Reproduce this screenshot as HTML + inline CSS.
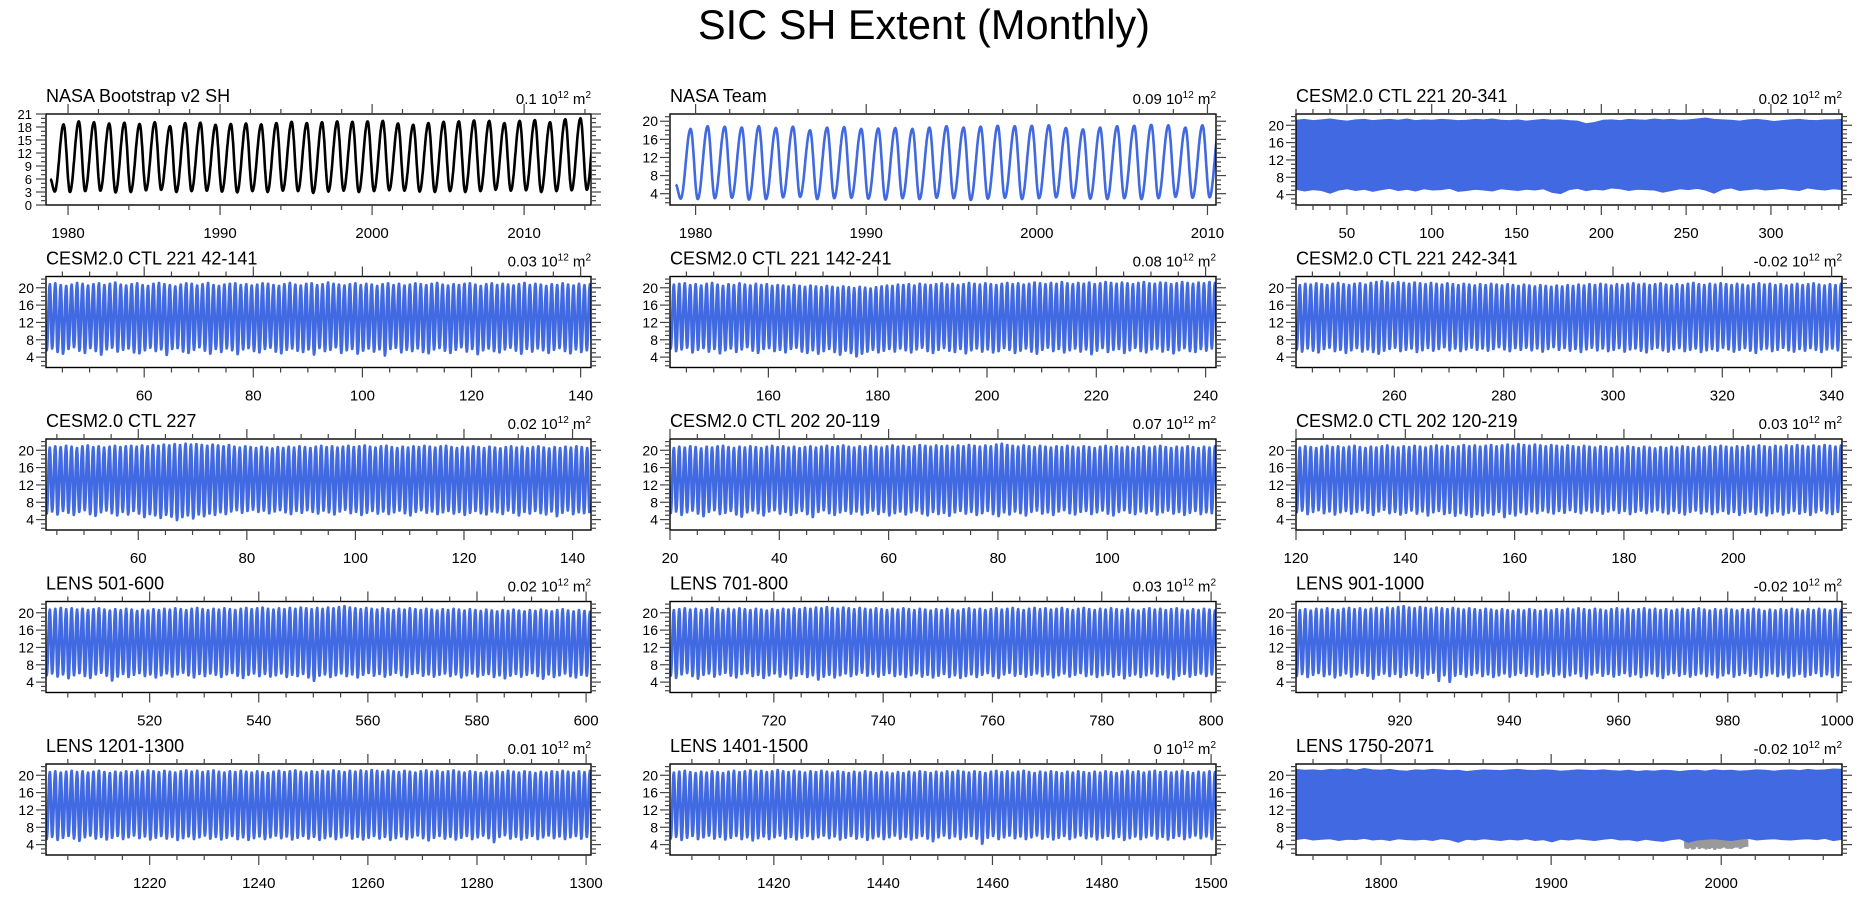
<!DOCTYPE html>
<html><head><meta charset="utf-8"><title>SIC SH Extent (Monthly)</title>
<style>html,body{margin:0;padding:0;background:#fff}svg{display:block}text{font-family:"Liberation Sans",Arial,sans-serif;fill:#000}</style>
</head><body>
<svg id="chart" xmlns="http://www.w3.org/2000/svg" width="1863" height="897" viewBox="0 0 1863 897">
<text x="924" y="39" font-size="42" text-anchor="middle" textLength="452" lengthAdjust="spacingAndGlyphs">SIC SH Extent (Monthly)</text>
</svg>
<script>
// ---------- data (annual Sep maxima / Feb minima, 10^6 km^2) ----------
const bootMax=[18.6,19.3,19.1,18.8,19.0,18.7,19.1,18.2,18.9,19.0,18.5,18.7,18.8,18.6,18.9,19.2,18.9,19.1,19.3,19.2,19.3,19.4,18.8,18.5,18.9,19.2,19.3,19.5,19.4,18.9,19.4,19.6,19.1,19.8,20.0,20.1];
const bootMin=[3.1,3.0,3.2,3.3,2.9,3.0,3.4,3.5,3.0,3.2,3.3,3.1,2.9,3.2,3.0,3.3,3.2,2.8,3.1,3.3,3.0,3.2,3.4,3.3,3.1,3.0,3.2,3.0,3.2,3.5,3.3,3.4,3.0,3.2,3.4,3.5];
const teamMax=[18.3,18.9,18.8,18.6,18.9,18.5,18.8,18.0,18.6,18.7,18.3,18.4,18.5,18.3,18.6,18.9,18.6,18.8,19.0,18.9,19.0,19.1,18.5,18.2,18.6,18.9,19.0,19.2,19.1,18.6,19.1,19.2];
const teamMin=[2.9,2.8,3.0,3.1,2.7,2.8,3.2,3.3,2.8,3.0,3.1,2.9,2.7,3.0,2.8,3.1,3.0,2.6,2.9,3.1,2.8,3.0,3.2,3.1,2.9,2.8,3.0,2.8,3.0,3.3,3.1,3.2];
const c221Upper=[21.1,21.3,21.0,21.2,21.4,21.1,20.9,21.2,21.3,21.0,21.2,21.3,21.1,21.4,21.0,21.2,21.1,21.3,21.2,21.0,21.1,21.3,21.2,21.4,21.1,21.0,21.2,20.9,21.1,21.3,21.1,21.2,21.0,20.9,20.3,20.6,21.1,21.2,21.0,21.3,21.2,21.1,21.4,21.2,21.3,21.1,21.2,21.4,21.6,21.3,21.2,21.1,20.9,21.2,21.3,21.1,20.8,21.0,21.2,21.3,21.1,21.0,21.2,21.2,21.3];
const c221Lower=[5.3,4.9,5.2,5.0,4.4,5.1,5.4,5.0,5.3,4.8,5.2,5.5,5.0,5.3,4.9,5.4,5.1,5.2,5.5,4.8,5.0,5.3,5.1,4.9,5.4,5.2,5.0,5.3,5.1,5.4,4.6,4.3,5.2,5.5,5.0,5.3,5.1,5.6,5.4,5.0,5.3,5.2,5.1,4.6,5.0,5.4,5.2,5.5,5.1,4.4,5.3,5.6,5.0,5.2,5.4,5.1,5.3,5.5,5.2,5.0,5.6,5.3,5.1,5.4,5.2];
const lensUpper=[21.3,21.1,21.2,21.0,21.3,21.2,21.4,21.1,21.5,21.2,21.1,21.3,21.0,20.9,21.2,21.1,21.3,21.2,21.0,21.1,20.8,21.0,21.2,21.1,21.0,21.2,21.3,21.1,21.0,21.2,21.1,20.9,21.0,21.2,21.1,21.0,21.2,21.0,20.9,21.1,20.8,21.0,20.9,21.1,21.0,20.8,21.0,21.1,20.9,21.2,21.0,21.1,20.9,21.0,21.2,21.1,20.9,21.1,21.2,21.0,21.3,21.1,21.2,21.4,21.3];
const lensLower=[5.2,5.5,5.1,5.3,5.4,5.0,5.3,5.2,5.5,5.1,5.3,5.0,5.4,5.2,5.1,5.3,5.0,5.4,5.2,4.6,5.3,5.1,5.4,5.2,5.0,5.3,5.1,5.4,5.0,5.2,4.7,5.3,5.1,5.4,5.2,5.0,5.3,5.5,5.1,5.2,4.9,5.3,5.0,4.8,5.2,5.4,4.6,5.1,5.3,5.4,5.2,5.0,5.3,5.5,5.1,5.3,5.4,5.2,5.1,5.3,5.4,5.2,5.5,5.0,5.3];
const p4Max=[20.8,21.0,20.6,20.4,20.7,21.1,20.9,20.5,20.8,21.0,20.6,20.9,21.2,20.7,20.5,20.8,21.0,20.6,20.4,20.9,21.1,20.8,20.6,20.3,20.7,21.0,20.9,20.5,20.8,21.1,20.6,20.4,20.7,20.9,21.0,20.6,20.8,20.5,20.7,21.0,20.9,20.6,20.4,20.8,21.1,20.7,20.5,20.9,21.0,20.6,20.8,21.2,20.9,20.7,20.5,20.8,21.0,20.6,20.9,20.7,20.4,20.8,21.0,20.6,20.9,20.5,20.7,21.0,20.8,20.6,20.9,21.1,20.7,20.5,20.8,20.6,20.9,21.0,20.7,20.4,20.8,21.0,20.6,20.9,20.7,20.5,20.8,21.1,20.6,20.9,20.7,20.4,20.8,20.6,21.0,20.7,20.5,20.9,20.6,20.8];
const p4Min=[5.6,6.0,5.2,4.8,5.9,6.3,5.5,5.0,6.1,5.4,4.6,5.8,6.2,5.3,5.7,6.0,5.1,4.9,5.6,6.2,5.4,5.8,4.5,5.9,6.1,5.3,5.0,5.7,6.3,5.5,4.8,5.9,5.2,6.0,5.6,4.7,5.8,6.1,5.4,5.1,5.9,6.2,5.3,4.9,5.7,6.0,5.5,5.2,5.8,4.6,6.1,5.4,5.7,6.3,5.0,5.6,5.9,4.8,5.5,6.0,5.3,5.8,4.4,5.9,6.2,5.1,5.7,5.4,6.0,5.2,4.9,5.8,6.1,5.5,5.0,5.7,6.3,5.3,5.9,4.7,5.6,6.0,5.4,5.1,5.8,6.2,5.5,4.8,5.9,5.3,6.0,5.6,5.0,5.7,6.1,5.4,4.9,5.8,5.2,5.6];
const p5Max=[20.7,20.9,21.0,20.6,20.8,20.5,20.9,21.1,20.7,20.4,20.8,20.6,21.0,20.7,20.5,20.9,20.6,20.8,20.4,20.6,20.5,20.3,20.6,20.4,20.2,20.5,20.3,20.1,20.4,20.2,20.0,20.3,20.1,19.9,20.2,20.0,19.8,20.1,20.3,20.5,20.4,20.7,20.6,20.8,20.5,20.9,20.7,20.6,20.8,21.0,20.7,20.9,20.6,20.8,21.1,20.9,20.7,21.0,20.8,20.6,20.9,21.1,20.8,21.0,20.7,20.9,21.2,21.0,20.8,21.1,20.9,21.3,21.0,20.8,21.1,20.9,21.2,20.8,21.0,21.3,21.1,20.9,21.2,21.0,20.8,21.1,21.3,21.0,20.9,21.2,21.1,20.8,21.0,21.3,21.1,20.9,21.2,21.0,21.3,21.1];
const p5Min=[6.0,5.4,5.8,6.2,5.1,5.7,6.1,5.3,5.9,4.9,5.6,6.0,5.2,5.8,6.3,5.5,5.0,5.9,6.1,5.4,5.7,5.1,5.9,6.2,5.3,5.0,5.6,4.8,5.4,5.9,5.2,4.6,5.5,5.0,4.2,4.8,5.3,5.7,5.1,5.5,5.9,5.3,6.0,5.6,5.1,5.8,6.2,5.4,5.0,5.7,6.1,5.5,5.2,5.9,4.9,5.6,6.0,5.3,5.8,5.1,5.4,6.1,5.7,5.0,5.5,6.0,5.3,4.8,5.7,6.2,5.4,5.9,5.1,5.6,6.0,5.3,5.8,4.7,5.5,6.1,5.2,5.7,5.9,5.0,5.6,6.2,5.4,5.1,5.8,6.0,5.3,5.7,4.9,5.6,6.1,5.4,5.2,5.9,5.5,6.0];
const p6Max=[20.6,20.9,20.7,21.0,20.8,20.6,20.9,21.1,20.8,20.6,20.9,21.0,20.7,21.1,21.3,21.5,21.2,21.0,21.3,21.1,20.9,21.2,21.0,20.8,21.1,20.9,20.7,21.0,20.8,20.6,20.9,20.7,20.5,20.8,20.6,20.9,20.7,20.5,20.8,20.6,20.4,20.7,20.5,20.3,20.6,20.4,20.2,20.5,20.3,20.6,20.4,20.7,20.5,20.8,20.6,20.9,20.7,20.5,20.8,20.6,20.9,21.0,20.7,20.9,20.6,20.8,21.0,20.7,20.5,20.8,20.6,20.9,21.1,20.8,20.6,20.9,20.7,21.0,20.8,20.6,20.9,20.7,20.5,20.8,21.0,20.7,20.9,20.6,20.8,20.5,20.7,20.9,20.6,20.8,21.0,20.7,20.5,20.8,20.6,20.9];
const p6Min=[5.8,5.3,6.0,5.5,5.1,5.9,6.2,5.4,5.7,5.0,5.6,6.1,5.3,5.8,5.2,4.8,5.5,5.9,6.2,5.4,5.7,6.0,5.2,5.6,6.1,5.5,5.9,6.3,5.6,6.0,5.4,5.8,6.2,5.7,6.0,5.5,5.9,6.3,5.8,5.4,6.1,5.7,6.2,5.6,6.0,5.3,5.9,6.3,5.7,6.1,5.5,5.9,5.2,5.8,6.2,5.6,6.0,5.4,5.7,6.1,5.3,5.8,6.0,5.5,5.1,5.9,6.2,5.6,5.3,5.8,6.1,5.4,5.7,6.0,5.2,5.6,5.9,5.5,6.2,5.8,5.3,5.7,6.1,5.5,5.0,5.8,6.0,5.4,5.7,6.2,5.6,5.3,5.9,5.5,6.1,5.7,5.2,5.8,6.0,5.6];
const p7Max=[20.6,20.9,20.7,21.0,20.8,20.5,20.9,21.1,20.7,20.9,20.6,20.8,21.0,20.7,20.9,21.0,20.8,21.1,20.9,21.2,21.0,21.3,21.1,21.4,21.2,21.5,21.3,21.4,21.2,21.0,21.3,21.1,20.9,21.2,20.8,20.6,20.9,20.7,20.5,20.8,20.6,20.4,20.7,20.5,20.8,20.6,20.9,20.7,20.5,20.8,21.0,20.7,20.9,20.6,20.8,21.0,20.7,20.9,21.1,20.8,20.6,20.9,21.0,20.7,20.5,20.8,20.6,20.9,20.7,21.0,20.8,20.6,20.9,21.0,20.7,20.5,20.8,20.6,20.9,20.7,20.5,20.8,20.6,20.4,20.7,20.9,20.6,20.8,20.5,20.7,20.9,20.6,20.4,20.7,20.5,20.8,20.6,20.9,20.7,20.5];
const p7Min=[5.4,5.9,5.2,6.0,5.6,5.1,5.8,6.2,5.3,4.9,5.7,6.1,5.5,5.0,5.8,5.2,6.0,5.4,4.6,5.3,5.0,4.4,5.1,4.7,3.9,4.6,5.0,4.3,5.2,4.8,5.4,5.1,5.7,5.3,5.9,6.2,5.6,6.0,6.3,5.8,6.1,5.5,5.9,6.2,5.7,5.3,6.0,5.6,6.2,5.8,5.4,6.1,5.7,5.2,5.9,6.3,5.5,5.8,5.1,5.6,6.0,5.4,5.9,5.3,5.7,6.1,5.5,5.0,5.8,6.2,5.6,5.9,5.3,5.7,6.0,5.4,5.8,5.1,5.6,6.0,5.5,5.2,5.9,5.7,5.3,6.1,5.6,5.0,5.8,5.4,6.0,5.5,5.2,5.9,4.8,5.6,6.1,5.3,5.7,5.5];
const p8Max=[20.5,20.8,20.6,20.9,20.7,20.4,20.8,20.6,20.9,21.0,20.7,20.5,20.8,20.6,20.9,20.7,20.5,20.8,21.0,20.7,20.9,20.6,20.8,20.5,20.7,20.9,20.6,20.8,21.0,20.7,20.9,21.1,20.8,20.6,20.9,20.7,21.0,20.8,20.6,20.9,21.1,20.8,21.0,20.7,20.9,21.2,21.0,20.8,21.1,20.9,21.0,20.8,21.1,20.9,21.2,21.0,20.8,21.1,20.9,21.3,21.5,21.2,21.0,20.8,21.1,20.9,20.7,21.0,20.8,20.6,20.9,20.7,21.0,20.8,20.6,20.9,20.7,20.5,20.8,21.0,20.7,20.9,20.6,20.8,20.5,20.7,20.9,20.6,20.8,21.0,20.7,20.5,20.8,20.6,20.9,20.7,20.5,20.8,20.6,20.9];
const p8Min=[5.5,5.9,5.1,5.7,6.1,5.4,4.8,5.8,6.2,5.3,5.6,6.0,5.2,4.7,5.7,6.1,5.5,5.0,5.9,6.2,5.4,5.8,5.1,5.6,6.0,5.3,4.6,5.8,6.2,5.5,5.1,5.7,6.0,5.4,5.9,5.2,5.6,6.1,5.3,5.8,5.0,5.5,5.9,5.2,5.7,6.1,5.4,5.0,5.8,5.3,5.6,4.9,5.7,6.0,5.4,5.8,5.1,5.5,6.0,5.3,4.8,5.7,5.2,5.9,5.5,5.0,5.8,6.1,5.4,5.7,5.1,5.9,6.2,5.5,5.2,5.8,6.0,5.3,5.7,6.1,5.4,5.0,5.8,6.2,5.6,5.3,5.9,5.5,6.0,5.2,5.7,6.1,5.4,5.8,5.1,5.6,6.0,5.3,5.7,5.5];
const p9Max=[20.6,20.9,20.7,20.5,20.8,21.0,20.7,20.9,20.6,20.8,21.0,20.7,20.5,20.8,20.6,20.9,21.1,20.8,20.6,20.9,20.7,21.0,20.8,20.6,20.9,21.1,20.8,21.0,20.7,20.9,21.2,20.9,21.1,20.8,21.0,21.2,20.9,21.1,21.3,21.0,21.4,21.2,21.0,21.3,21.1,20.9,21.2,21.0,20.8,21.1,20.9,20.7,21.0,20.8,20.6,20.9,20.7,20.5,20.8,20.6,20.9,20.7,20.5,20.8,20.6,20.4,20.7,20.5,20.8,20.6,20.9,20.7,20.5,20.8,20.6,20.9,20.7,21.0,20.8,20.6,20.9,20.7,21.0,20.8,21.1,20.9,20.7,21.0,20.8,21.1,20.9,21.2,21.0,20.8,21.1,20.9,21.2,21.0,20.8,21.1];
const p9Min=[5.7,6.1,5.3,5.8,6.2,5.5,5.9,5.2,5.7,6.0,5.4,5.8,6.2,5.6,5.1,5.9,6.3,5.5,5.8,5.2,5.6,6.1,5.4,5.9,5.0,5.7,6.0,5.3,5.6,4.9,5.5,5.1,4.7,5.3,5.0,5.6,5.2,5.8,4.6,5.4,5.0,5.7,5.3,5.9,5.5,6.1,5.7,5.4,6.0,5.6,6.2,5.8,5.5,6.1,5.7,6.0,5.4,5.9,6.2,5.6,6.0,5.3,5.8,6.1,5.5,5.9,6.2,5.7,5.4,6.0,5.6,5.2,5.8,6.1,5.5,5.9,5.3,5.7,6.0,5.4,5.8,5.1,5.6,5.9,5.3,5.7,5.0,5.5,5.9,5.2,5.6,6.0,5.4,5.8,5.1,5.7,6.1,5.5,5.3,5.8];
const p10Max=[20.7,20.9,21.1,20.8,21.0,20.7,20.9,20.6,20.8,21.0,20.7,20.5,20.8,20.6,20.9,20.7,20.4,20.7,20.5,20.8,20.6,20.9,20.7,21.0,20.8,20.6,20.9,21.1,20.8,20.6,20.9,20.7,21.0,20.8,20.6,20.9,21.1,20.8,21.0,21.2,20.9,20.7,21.0,20.8,21.1,20.9,21.2,21.0,20.8,21.1,20.9,21.2,21.0,21.3,21.5,21.2,21.0,20.8,21.1,20.9,20.7,21.0,20.8,20.6,20.9,20.7,21.0,20.8,20.6,20.9,20.7,20.5,20.8,20.6,20.9,20.7,20.5,20.8,20.6,20.4,20.7,20.5,20.3,20.6,20.4,20.7,20.5,20.3,20.6,20.4,20.7,20.5,20.3,20.6,20.8,20.5,20.3,20.6,20.4,20.2];
const p10Min=[5.6,6.0,5.3,5.8,4.9,5.6,6.1,5.4,5.0,5.8,6.2,5.5,4.4,5.3,5.9,5.2,5.7,6.1,5.4,5.8,5.1,5.6,6.0,5.3,5.8,6.2,5.6,5.1,5.9,5.4,6.0,5.7,5.2,5.8,6.1,5.5,5.0,5.7,6.0,5.4,5.9,5.3,5.6,6.0,5.2,5.7,5.4,5.9,5.1,4.3,5.5,5.8,5.2,5.6,6.0,5.4,5.8,5.1,5.7,6.1,5.5,5.9,5.3,5.7,6.2,5.6,5.2,5.9,6.1,5.5,5.8,5.3,5.7,6.0,5.4,5.8,5.1,5.6,6.0,5.3,5.7,5.9,5.2,5.6,4.9,5.5,5.9,5.3,5.7,6.1,5.4,4.8,5.8,5.2,5.6,6.0,5.4,5.1,5.7,5.5];
const p11Max=[20.6,20.8,21.0,20.7,20.9,20.6,20.8,21.1,20.8,20.6,20.9,20.7,21.0,20.8,20.6,20.9,20.7,20.5,20.8,20.6,20.9,20.7,21.0,20.8,21.1,20.9,21.2,21.0,21.3,21.1,20.9,21.2,21.0,20.8,21.1,20.9,20.7,21.0,20.8,20.6,20.9,20.7,21.0,20.8,20.6,20.9,20.7,20.5,20.8,20.6,20.9,20.7,20.5,20.8,21.0,20.7,20.9,20.6,20.8,21.0,20.7,20.9,21.1,20.8,20.6,20.9,21.1,20.8,21.0,20.7,20.9,21.1,20.8,20.6,20.9,21.1,20.8,20.6,20.9,20.7,21.0,20.8,20.6,20.9,20.7,20.5,20.8,21.0,20.7,20.9,20.6,20.8,21.0,20.7,20.5,20.8,20.6,20.9,20.7,20.5];
const p11Min=[5.5,5.0,5.8,6.1,5.4,4.8,5.7,6.0,5.3,5.8,6.2,5.5,5.1,5.9,6.1,5.4,5.7,5.0,5.6,6.0,5.3,5.8,4.9,5.5,5.9,5.2,5.6,4.6,5.3,5.7,5.1,5.6,6.0,5.4,5.8,6.2,5.5,5.9,5.3,5.7,6.1,5.4,5.8,5.2,5.6,6.0,5.3,5.7,5.1,5.5,5.9,5.2,5.6,5.0,5.4,5.8,5.2,5.7,6.1,5.4,5.0,5.8,6.2,5.5,5.9,5.3,5.7,6.0,5.4,5.8,5.1,5.6,6.0,5.3,5.7,6.1,5.4,5.8,5.2,5.6,5.9,5.3,5.7,4.9,5.5,5.8,5.2,5.6,6.0,5.4,5.8,5.1,4.7,5.5,5.9,5.3,5.7,6.0,5.4,5.8];
const p12Max=[20.6,20.8,20.5,20.9,20.7,21.0,20.8,20.6,20.9,21.1,20.8,21.0,20.7,20.9,21.1,20.8,21.2,21.0,21.3,21.5,21.2,21.0,21.3,21.1,20.9,21.2,21.0,20.8,21.1,20.9,20.7,21.0,20.8,20.6,20.9,20.7,20.5,20.8,20.6,20.4,20.7,20.5,20.8,20.6,20.4,20.7,20.5,20.8,20.6,20.9,20.7,21.0,20.8,20.6,20.9,20.7,20.5,20.8,21.0,20.7,20.9,20.6,20.8,21.0,20.7,20.9,20.6,20.8,20.5,20.7,20.9,20.6,20.8,21.0,20.7,20.5,20.8,20.6,20.9,20.7,20.5,20.8,20.6,20.9,20.7,20.4,20.7,20.5,20.8,20.6,20.9,20.7,20.5,20.8,20.6,20.9,20.7,20.5,20.8,20.6];
const p12Min=[5.4,5.9,5.2,5.7,6.1,5.4,5.8,5.1,5.6,6.0,5.3,5.8,6.1,5.5,4.8,5.7,6.0,5.4,5.9,5.2,5.7,6.1,5.5,5.0,5.8,6.2,4.3,5.6,4.1,5.5,5.9,5.3,5.7,6.1,5.4,5.8,5.2,5.6,6.0,5.3,5.7,6.1,5.5,5.9,5.3,5.7,6.0,5.4,5.8,5.2,5.6,6.0,5.4,4.9,5.8,6.2,5.5,5.9,5.3,5.7,6.1,5.4,5.8,5.2,5.6,6.0,5.4,5.0,5.8,6.1,5.5,5.9,5.3,5.7,6.0,5.4,5.8,5.1,5.6,6.0,5.3,5.7,6.1,5.5,5.9,5.2,5.6,6.0,5.4,5.8,5.1,5.5,5.9,5.3,5.7,6.1,5.4,5.8,5.2,5.6];
const p13Max=[20.7,20.9,20.6,20.8,21.0,20.7,20.9,20.6,20.8,21.0,20.7,20.5,20.8,20.6,20.9,20.7,21.0,20.8,21.1,20.9,20.7,21.0,20.8,20.6,20.9,21.1,20.8,21.0,20.7,20.9,21.1,20.8,20.6,20.9,20.7,21.0,20.8,20.6,20.9,20.7,20.5,20.8,21.0,20.7,20.9,21.1,20.8,20.6,20.9,20.7,21.0,20.8,21.1,20.9,20.7,21.0,20.8,21.1,20.9,21.2,21.0,20.8,21.1,20.9,20.7,21.0,20.8,20.6,20.9,21.1,20.8,21.0,20.7,20.9,21.1,20.8,20.6,20.9,20.7,20.5,20.8,20.6,20.9,20.7,21.0,20.8,20.6,20.9,20.7,20.5,20.8,20.6,20.9,20.7,21.0,20.8,20.6,20.9,20.7,21.0];
const p13Min=[5.3,5.8,5.1,5.6,6.0,5.4,4.9,5.7,6.1,5.4,5.8,5.2,5.6,6.0,5.3,5.7,6.1,5.5,5.9,5.2,5.6,6.0,5.4,5.8,5.1,5.5,5.9,5.3,5.7,6.1,5.4,5.8,5.2,5.6,6.0,5.3,5.7,5.1,5.5,5.9,5.3,5.7,6.1,5.5,5.9,5.2,5.6,6.0,5.4,5.8,5.1,5.5,5.9,5.3,5.7,6.1,5.4,5.8,5.2,5.6,6.0,5.4,5.8,5.1,5.5,5.9,5.3,5.7,6.1,5.5,5.0,5.6,6.0,5.4,5.8,5.2,5.6,6.0,5.3,5.7,6.1,5.5,4.6,5.8,6.2,5.4,5.8,5.2,5.6,6.0,5.3,5.7,6.1,5.5,5.9,5.3,5.7,6.0,5.4,5.8];
const p14Max=[20.6,20.8,21.0,20.7,20.5,20.8,20.6,20.9,20.7,20.5,20.8,21.0,20.7,20.9,21.1,20.8,21.0,20.7,20.9,21.2,20.9,20.7,21.0,20.8,20.6,20.9,20.7,21.0,20.8,20.6,20.9,20.7,20.5,20.8,20.6,20.9,20.7,20.5,20.8,20.6,20.4,20.7,20.5,20.8,20.6,20.9,20.7,20.5,20.8,20.6,20.9,20.7,21.0,20.8,20.6,20.9,20.7,20.5,20.8,21.0,20.7,20.9,20.6,20.8,21.0,20.7,20.5,20.8,20.6,20.9,20.7,20.5,20.8,20.6,20.9,20.7,20.5,20.8,20.6,20.9,20.7,20.5,20.8,21.0,20.7,20.9,20.6,20.8,21.0,20.7,20.9,20.6,20.8,21.0,20.7,20.5,20.8,20.6,20.9,20.7];
const p14Min=[5.4,5.8,5.1,5.6,6.0,5.3,5.7,6.1,5.4,5.8,5.2,5.6,6.0,5.3,5.7,5.0,5.5,5.9,5.3,5.7,6.1,5.4,5.8,5.2,5.6,6.0,5.3,5.7,6.1,5.5,5.9,5.2,5.6,6.0,5.4,5.8,5.1,5.5,5.9,5.3,5.7,6.1,5.4,5.8,5.2,5.6,6.0,5.4,4.8,5.7,6.1,5.5,5.9,5.3,5.7,6.0,5.4,4.2,5.6,6.0,5.3,5.7,6.1,5.5,5.9,5.3,5.7,6.1,5.4,5.8,5.2,5.6,6.0,5.3,5.7,6.1,5.5,5.9,5.2,5.6,6.0,5.4,5.8,5.1,5.5,5.9,5.3,5.7,6.1,5.4,5.8,5.2,5.6,6.0,5.3,5.7,6.1,5.5,5.9,5.3];
</script>
<script>
const svg=document.getElementById('chart');
const NS='http://www.w3.org/2000/svg';
const COLX=[46,670,1296], COLW=[545,546,546], ROW0=114, PITCH=162.5, PH=91;
const BLUE='#4169e1';
function mk(tag,attrs,parent){const e=document.createElementNS(NS,tag);for(const k in attrs)e.setAttribute(k,attrs[k]);(parent||svg).appendChild(e);return e;}

const panels=[
 {t:'NASA Bootstrap v2 SH',r:'0.1',c:0,w:0,x0:1978.55,x1:2014.4,xM:10,xm:2,y0:0,y1:21,yM:3,kind:'line',mx:bootMax,mn:bootMin,start:1979,first:6,col:'#000',lw:2.6},
 {t:'NASA Team',r:'0.09',c:1,w:0,x0:1978.5,x1:2010.5,xM:10,xm:2,y0:1.5,y1:21.6,yM:4,kind:'line',mx:teamMax,mn:teamMin,start:1979,first:6,col:BLUE,lw:2.6},
 {t:'CESM2.0 CTL 221 20-341',r:'0.02',c:2,w:0,x0:20,x1:341.9,xM:50,xm:10,y0:1.6,y1:22.6,yM:4,kind:'band',up:c221Upper,lo:c221Lower},
 {t:'CESM2.0 CTL 221 42-141',r:'0.03',c:0,w:1,x0:42,x1:141.9,xM:20,xm:5,y0:1.6,y1:22.6,yM:4,kind:'line',mx:p4Max,mn:p4Min,start:42,first:11.5},
 {t:'CESM2.0 CTL 221 142-241',r:'0.08',c:1,w:1,x0:142,x1:241.9,xM:20,xm:5,y0:1.6,y1:22.6,yM:4,kind:'line',mx:p5Max,mn:p5Min,start:142,first:11.5},
 {t:'CESM2.0 CTL 221 242-341',r:'-0.02',c:2,w:1,x0:242,x1:341.9,xM:20,xm:5,y0:1.6,y1:22.6,yM:4,kind:'line',mx:p6Max,mn:p6Min,start:242,first:11.5},
 {t:'CESM2.0 CTL 227',r:'0.02',c:0,w:2,x0:43,x1:143.4,xM:20,xm:5,y0:1.6,y1:22.6,yM:4,kind:'line',mx:p7Max,mn:p7Min,start:43,first:11.5},
 {t:'CESM2.0 CTL 202 20-119',r:'0.07',c:1,w:2,x0:20,x1:119.9,xM:20,xm:5,y0:1.6,y1:22.6,yM:4,kind:'line',mx:p8Max,mn:p8Min,start:20,first:11.5},
 {t:'CESM2.0 CTL 202 120-219',r:'0.03',c:2,w:2,x0:120,x1:219.9,xM:20,xm:5,y0:1.6,y1:22.6,yM:4,kind:'line',mx:p9Max,mn:p9Min,start:120,first:11.5},
 {t:'LENS 501-600',r:'0.02',c:0,w:3,x0:501,x1:600.9,xM:20,xm:5,y0:1.6,y1:22.6,yM:4,kind:'line',mx:p10Max,mn:p10Min,start:501,first:11.5},
 {t:'LENS 701-800',r:'0.03',c:1,w:3,x0:701,x1:800.9,xM:20,xm:5,y0:1.6,y1:22.6,yM:4,kind:'line',mx:p11Max,mn:p11Min,start:701,first:11.5},
 {t:'LENS 901-1000',r:'-0.02',c:2,w:3,x0:901,x1:1000.9,xM:20,xm:5,y0:1.6,y1:22.6,yM:4,kind:'line',mx:p12Max,mn:p12Min,start:901,first:11.5},
 {t:'LENS 1201-1300',r:'0.01',c:0,w:4,x0:1201,x1:1300.9,xM:20,xm:5,y0:1.6,y1:22.6,yM:4,kind:'line',mx:p13Max,mn:p13Min,start:1201,first:11.5},
 {t:'LENS 1401-1500',r:'0',c:1,w:4,x0:1401,x1:1500.9,xM:20,xm:5,y0:1.6,y1:22.6,yM:4,kind:'line',mx:p14Max,mn:p14Min,start:1401,first:11.5},
 {t:'LENS 1750-2071',r:'-0.02',c:2,w:4,x0:1750,x1:2071,xM:100,xm:20,y0:1.6,y1:22.6,yM:4,kind:'band',up:lensUpper,lo:lensLower,obs:true}
];

function monthly(p,step){
  const knots=[[p.start-2/12,p.first]];
  for(let i=0;i<p.mx.length;i++){
    knots.push([p.start+i+1.5/12,p.mn[i]]);
    knots.push([p.start+i+8.5/12,p.mx[i]]);
  }
  knots.push([p.start+p.mx.length+1.5/12,p.mn[p.mn.length-1]]);
  const pts=[];
  for(let k=0;k<knots.length-1;k++){
    const [ta,va]=knots[k],[tb,vb]=knots[k+1];
    const n=Math.max(2,Math.round((tb-ta)*12*step));
    for(let j=(k===0?0:1);j<=n;j++){const f=j/n;pts.push([ta+(tb-ta)*f,va+(vb-va)*(1-Math.cos(Math.PI*f))/2]);}
  }
  return pts;
}

panels.forEach((p,idx)=>{
  const L=COLX[p.c],W=COLW[p.c],T=ROW0+p.w*PITCH,B=T+PH,R=L+W;
  const sx=v=>L+(v-p.x0)/(p.x1-p.x0)*W;
  const sy=v=>B-(v-p.y0)/(p.y1-p.y0)*PH;
  const g=mk('g',{});
  
  
  const cp=mk('clipPath',{id:'cp'+idx},g);mk('rect',{x:L,y:T,width:W,height:PH},cp);
  const data=mk('g',{'clip-path':'url(#cp'+idx+')'},g);
  
  
  if(p.kind==='line'){
    const pts=monthly(p,p.mx.length<50?4:1);
    const path=mk('path',{d:'M'+pts.map(q=>sx(q[0]).toFixed(1)+','+sy(q[1]).toFixed(1)).join('L'),fill:'none',stroke:p.col||BLUE,'stroke-width':p.lw||2.8,'stroke-linejoin':'round'},data);
    
    
  } else {
    if(p.obs){
      const op={start:1979,first:6,mx:bootMax,mn:bootMin};
      const pts=monthly(op,2);
      const ob=mk('path',{d:'M'+pts.map(q=>sx(q[0]).toFixed(1)+','+sy(q[1]).toFixed(1)).join('L'),fill:'none',stroke:'#999','stroke-width':3},data);
      
      
    }
    const n=p.up.length, st=(p.x1-p.x0)/(n-1);
    let d='M';
    p.up.forEach((v,i)=>{d+=sx(p.x0+i*st).toFixed(1)+','+sy(v).toFixed(1)+'L';});
    for(let i=n-1;i>=0;i--){d+=sx(p.x0+i*st).toFixed(1)+','+sy(p.lo[i]).toFixed(1)+(i?'L':'Z');}
    const band=mk('path',{d:d,fill:BLUE,stroke:BLUE,'stroke-width':1.5},data);
    
    
  }
  const fr=mk('rect',{x:L,y:T,width:W,height:PH,fill:'none',stroke:'#000','stroke-width':1.4},g);
  
  
  const tk=mk('g',{stroke:'#444','stroke-width':1.2},g);
  
  
  const xs=Math.ceil(p.x0/p.xm)*p.xm;
  for(let v=xs;v<=p.x1+1e-6;v+=p.xm){
    const major=Math.abs(v/p.xM-Math.round(v/p.xM))<1e-6, x=sx(v), len=major?10:5;
    mk('line',{x1:x,x2:x,y1:B,y2:B+len},tk);mk('line',{x1:x,x2:x,y1:T,y2:T-len},tk);
    if(major){const t=mk('text',{x:x,y:B+33,'font-size':15,'text-anchor':'middle'},g);t.textContent=String(Math.round(v));
      
      }
  }
  for(let v=Math.ceil(p.y0);v<=p.y1+1e-6;v+=1){
    const major=(v%p.yM===0)&&(p.yM===3||v>=4&&v<=20), y=sy(v), len=major?10:5;
    mk('line',{x1:L,x2:L-len,y1:y,y2:y},tk);mk('line',{x1:R,x2:R+len,y1:y,y2:y},tk);
    if(major){const t=mk('text',{x:L-(p.yM===3?14:12),y:y+5,'font-size':p.yM===3?13:14,'text-anchor':'end'},g);t.textContent=String(v);
      
      }
  }
  const tt=mk('text',{x:L,y:T-12,'font-size':18},g);tt.textContent=p.t;
  
  
  const rt=mk('text',{x:R,y:T-10,'font-size':15,'text-anchor':'end'},g);
  
  
  rt.innerHTML=p.r+' 10<tspan font-size="10" dy="-6">12</tspan><tspan dy="6"> m</tspan><tspan font-size="10" dy="-6">2</tspan>';
});
</script>
</body></html>
